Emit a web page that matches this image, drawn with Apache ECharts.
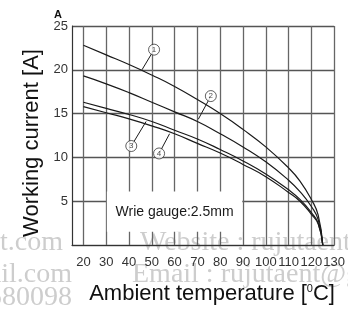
<!DOCTYPE html>
<html>
<head>
<meta charset="utf-8">
<script src="https://cdn.jsdelivr.net/npm/echarts@6/dist/echarts.min.js"></script>
<style>
  html, body { margin: 0; padding: 0; background: #fff; }
  #main { width: 348px; height: 310px; }
</style>
</head>
<body>
<div id="main"></div>
<script>
  // ambient temperature (°C) at which each curve was read
  var temps = [20, 30, 40, 50, 60, 70, 80, 90, 100, 110, 115, 120, 123, 125]
  // working current (A), curves 1..4
  var curve1 = [22.8, 21.7, 20.6, 19.4, 18.1, 16.6, 15.0, 13.2, 11.2, 8.8, 7.3, 5.2, 3.4, 0]
  var curve2 = [19.3, 18.4, 17.4, 16.3, 15.2, 14.1, 12.7, 11.2, 9.5, 7.4, 6.1, 4.4, 2.9, 0]
  var curve3 = [16.3, 15.6, 14.9, 14.1, 13.1, 12.1, 10.9, 9.6, 8.1, 6.3, 5.2, 3.7, 2.5, 0]
  var curve4 = [15.8, 15.1, 14.4, 13.6, 12.7, 11.6, 10.5, 9.2, 7.8, 6.0, 5.0, 3.5, 2.4, 0]

  var xTicks = [20, 30, 40, 50, 60, 70, 80, 90, 100, 110, 120, 130]

  // circled curve numbers and where their leader lines touch the curves
  var calloutText = ['1', '2', '3', '4']
  var calloutAt = [[51, 22.3], [75.9, 17.0], [41, 11.3], [53.2, 10.45]]
  var calloutTo = [[45.7, 20.0], [70.4, 14.35], [47.5, 14.1], [57.8, 12.7]]

  var noteText = 'Wrie gauge:2.5mm'
  var noteFrom = [30.3, 6.1]
  var noteTo = [89.7, 1.5]

  function pairs (xs, ys) {
    var out = []
    for (var i = 0; i < xs.length; i++) out.push([xs[i], ys[i]])
    return out
  }

  var font = 'Liberation Sans, Arial, sans-serif'
  var curveStyle = { color: '#1a1a1a', width: 1.2 }

  function curve (name, ys) {
    return {
      name: name,
      type: 'line',
      data: pairs(temps, ys),
      showSymbol: false,
      smooth: true,
      lineStyle: curveStyle,
      silent: true,
      z: 3
    }
  }

  var leaders = []
  for (var i = 0; i < calloutAt.length; i++) {
    leaders.push({ coords: [calloutAt[i], calloutTo[i]] })
  }

  var series = [
    curve('1', curve1),
    curve('2', curve2),
    curve('3', curve3),
    curve('4', curve4),
    {
      type: 'lines',
      coordinateSystem: 'cartesian2d',
      data: leaders,
      lineStyle: { color: '#1a1a1a', width: 1, opacity: 1 },
      silent: true,
      z: 4
    },
    {
      type: 'scatter',
      data: calloutAt,
      symbol: 'circle',
      symbolSize: 11,
      itemStyle: { color: '#fff', borderColor: '#222', borderWidth: 0.9 },
      label: {
        show: true,
        position: 'inside',
        fontSize: 8,
        fontFamily: font,
        color: '#222',
        formatter: function (p) { return calloutText[p.dataIndex] }
      },
      silent: true,
      z: 5
    }
  ]
  // white note box that hides the grid under the text
  series[0].markArea = {
    silent: true,
    itemStyle: { color: '#fff' },
    label: {
      show: true,
      position: 'inside',
      fontSize: 14,
      fontFamily: font,
      color: '#1a1a1a'
    },
    data: [[{ name: noteText, coord: noteFrom }, { coord: noteTo }]]
  }

  var wmFont = '28px "Liberation Serif", "Times New Roman", serif'
  var wmColor = '#cdcdcd'

  var option = {
    animation: false,
    backgroundColor: '#fff',
    title: {
      text: 'A',
      left: 54,
      top: 9,
      padding: 0,
      textStyle: { fontSize: 11, fontWeight: 'bold', color: '#111', fontFamily: font }
    },
    graphic: [
      { type: 'text', x: 63, y: 257, z: -10, silent: true, style: { text: 'rujutaent.com', font: wmFont, fill: wmColor, align: 'right', verticalAlign: 'bottom' } },
      { type: 'text', x: 140, y: 257, z: -10, silent: true, style: { text: 'Website : rujutaent.com', font: wmFont, fill: wmColor, verticalAlign: 'bottom' } },
      { type: 'text', x: 72, y: 289, z: -10, silent: true, style: { text: 'rujutaent@gmail.com', font: wmFont, fill: wmColor, align: 'right', verticalAlign: 'bottom' } },
      { type: 'text', x: 132, y: 289, z: -10, silent: true, style: { text: 'Email : rujutaent@gmail.com', font: wmFont, fill: wmColor, verticalAlign: 'bottom' } },
      { type: 'text', x: 72, y: 312, z: -10, silent: true, style: { text: '580098', font: wmFont, fill: wmColor, align: 'right', verticalAlign: 'bottom' } }
    ],
    grid: { left: 72, right: 10, top: 26, bottom: 63 },
    xAxis: {
      type: 'value',
      min: 15,
      max: 130,
      name: 'Ambient temperature [{s|0}C]',
      nameLocation: 'middle',
      nameGap: 38,
      nameTextStyle: {
        fontSize: 22,
        fontFamily: font,
        color: '#111',
        padding: [0, 0, 0, 18],
        rich: {
          s: { fontSize: 11, fontFamily: font, color: '#111', verticalAlign: 'top' }
        }
      },
      axisLine: { lineStyle: { color: '#333', width: 1.2 } },
      axisTick: { show: false, customValues: xTicks },
      axisLabel: {
        customValues: xTicks,
        fontSize: 13,
        fontFamily: font,
        color: '#333',
        margin: 11
      },
      splitLine: { show: true, lineStyle: { color: '#666', width: 1.3 } }
    },
    yAxis: {
      type: 'value',
      min: 0,
      max: 25,
      interval: 5,
      name: 'Working current [A]',
      nameLocation: 'middle',
      nameGap: 28,
      nameTextStyle: {
        fontSize: 22,
        fontFamily: font,
        color: '#111',
        padding: [0, 15, 0, 0]
      },
      axisLine: { show: true, lineStyle: { color: '#333', width: 1.2 } },
      axisTick: { show: false },
      axisLabel: {
        fontSize: 13,
        fontFamily: font,
        color: '#333',
        margin: 4,
        formatter: function (v) { return v === 0 ? '' : v }
      },
      splitLine: { show: true, lineStyle: { color: '#555', width: 1.3 } }
    },
    series: series
  }

  var myChart = echarts.init(document.getElementById('main'))
  myChart.setOption(option)
</script>
</body>
</html>
